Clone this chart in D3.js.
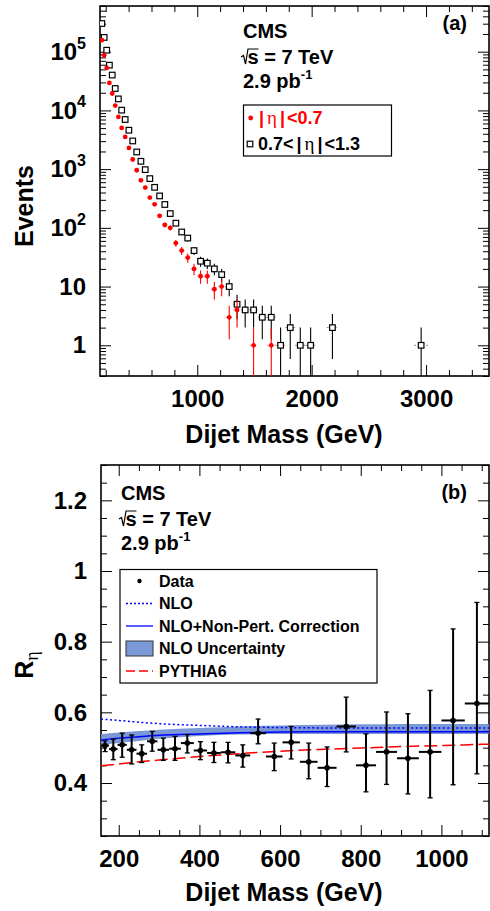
<!DOCTYPE html>
<html>
<head>
<meta charset="utf-8">
<script src="https://d3js.org/d3.v7.min.js"></script>
<style>
  body { margin: 0; background: #fff; }
  svg text { font-family: "Liberation Sans", Arial, Helvetica, sans-serif; font-weight: bold; fill: #000; }
  .ticklab text { font-size: 24px; }
</style>
</head>
<body>
<div id="chart"></div>
<script>
// dijet mass bin edges (GeV)
const binEdges = [156, 176, 197, 220, 244, 270, 296, 325, 354, 386, 419, 453, 489, 526, 565, 606,
  649, 693, 740, 788, 838, 890, 944, 1000, 1058, 1118, 1181, 1246, 1313, 1383, 1455, 1530, 1607,
  1687, 1770, 1856, 1945, 2037, 2132, 2231, 2332, 2438, 2546, 2659, 2775, 2895, 3019];

// (a) events per bin
const countsInner = [157000, 87000, 53000, 29400, 19400, 12100, 7740, 5040, 3540, 2300, 1460, 958,
  646, 486, 328, 252, 160, 112, 100, 55, 41, 31, 20, 15, 15, 9, 10, 3, 4, 0, 1, 0, 1,
  0, 0, 0, 0, 0, 0, 0, 0, 0, 0, 0, 0, 0];
const countsOuter = [302000, 175000, 106000, 59000, 40000, 23600, 15700, 10100, 7000, 4600, 3020, 1960,
  1360, 980, 690, 490, 350, 250, 175, 120, 85, 67, 41, 27, 25, 20, 16, 10, 5, 4, 4, 3, 3,
  1, 2, 1, 1, 0, 2, 0, 0, 0, 0, 0, 0, 1];

// (b) ratio, first 25 bins
const ratioVals = [0.506, 0.496, 0.508, 0.494, 0.483, 0.518, 0.494, 0.497, 0.513, 0.492, 0.485, 0.487,
  0.478, 0.541, 0.475, 0.515, 0.460, 0.443, 0.560, 0.450, 0.488, 0.470, 0.488, 0.577, 0.625];
const ratioErrUp = [0.013, 0.028, 0.033, 0.042, 0.025, 0.028, 0.033, 0.035, 0.024, 0.025, 0.030, 0.028,
  0.030, 0.040, 0.038, 0.045, 0.053, 0.059, 0.083, 0.089, 0.113, 0.126, 0.174, 0.259, 0.286];
const ratioErrDown = [0.017, 0.030, 0.035, 0.040, 0.025, 0.028, 0.030, 0.033, 0.028, 0.026, 0.027, 0.030,
  0.033, 0.030, 0.040, 0.047, 0.048, 0.053, 0.072, 0.075, 0.092, 0.101, 0.130, 0.182, 0.199];

// theory curves
const theoryMass = [156, 200, 250, 300, 400, 500, 600, 700, 800, 900, 1000, 1118];
const nloVals    = [0.581, 0.577, 0.572, 0.568, 0.563, 0.559, 0.557, 0.556, 0.556, 0.556, 0.556, 0.556];
const nloNpVals  = [0.522, 0.527, 0.531, 0.535, 0.539, 0.542, 0.544, 0.545, 0.545, 0.545, 0.545, 0.545];
const bandLo     = [0.507, 0.513, 0.519, 0.525, 0.533, 0.537, 0.539, 0.539, 0.539, 0.539, 0.539, 0.539];
const bandHi     = [0.538, 0.543, 0.547, 0.551, 0.556, 0.560, 0.563, 0.565, 0.566, 0.567, 0.567, 0.567];
const pythiaVals = [0.449, 0.454, 0.460, 0.465, 0.475, 0.483, 0.490, 0.495, 0.499, 0.503, 0.506, 0.510];

// ticks
const topXTicks = [1000, 2000, 3000];
const topYTicks = [1, 10, 100, 1000, 10000, 100000];
const botXTicks = [200, 400, 600, 800, 1000];
const botYTicks = [0.4, 0.6, 0.8, 1, 1.2];

const W = 490, H = 911;
const BLUE = "#0000ff", RED = "#ff0000", BAND = "#6c8dd0";

const svg = d3.select("#chart").append("svg")
  .attr("width", W)
  .attr("height", H);

const bins = binEdges.slice(0, -1).map((lo, i) => ({ lo, hi: binEdges[i + 1], c: (lo + binEdges[i + 1]) / 2 }));

// inward ticks on all four sides
function frameAxes(box, xs, ys, xMajor, xMinor, yMajor, yMinor, xFmt, yFmt) {
  const add = (axis, tr, cls) => svg.append("g")
    .attr("class", cls || "")
    .attr("transform", tr)
    .call(axis)
    .call(g => g.select(".domain").remove())
    .call(g => g.selectAll("line").attr("stroke-width", 1));

  add(d3.axisBottom(xs).tickValues(xMajor).tickSize(-11).tickPadding(14).tickFormat(xFmt), `translate(0,${box.bottom})`, "ticklab");
  add(d3.axisBottom(xs).tickValues(xMinor).tickSize(-6).tickFormat(""), `translate(0,${box.bottom})`);
  add(d3.axisTop(xs).tickValues(xMajor).tickSize(-11).tickFormat(""), `translate(0,${box.top})`);
  add(d3.axisTop(xs).tickValues(xMinor).tickSize(-6).tickFormat(""), `translate(0,${box.top})`);

  const yl = add(d3.axisLeft(ys).tickValues(yMajor).tickSize(-11).tickPadding(14).tickFormat(yFmt), `translate(${box.left},0)`, "ticklab");
  add(d3.axisLeft(ys).tickValues(yMinor).tickSize(-6).tickFormat(""), `translate(${box.left},0)`);
  add(d3.axisRight(ys).tickValues(yMajor).tickSize(-11).tickFormat(""), `translate(${box.right},0)`);
  add(d3.axisRight(ys).tickValues(yMinor).tickSize(-6).tickFormat(""), `translate(${box.right},0)`);

  svg.append("rect")
    .attr("x", box.left).attr("y", box.top)
    .attr("width", box.right - box.left).attr("height", box.bottom - box.top)
    .attr("fill", "none").attr("stroke", "#000").attr("stroke-width", 1.6);
  return yl;
}

function energyLabel(x, y) {
  svg.append("path")
    .attr("d", `M${x},${y - 7} L${x + 2.5},${y - 8.5} L${x + 4.5},${y} L${x + 7},${y - 15} L${x + 17.5},${y - 15}`)
    .attr("fill", "none").attr("stroke", "#000").attr("stroke-width", 1.2);
  svg.append("text").attr("x", x + 6.5).attr("y", y).attr("font-size", 20).text("s = 7 TeV");
}

function lumiLabel(x, y) {
  const t = svg.append("text").attr("x", x).attr("y", y).attr("font-size", 20);
  t.append("tspan").text("2.9 pb");
  t.append("tspan").attr("font-size", 13).attr("dy", "-0.7em").text("-1");
}

// ================= (a) spectrum =================
const topBox = { left: 100, right: 489, top: 6, bottom: 376 };
const xTop = d3.scaleLinear().domain([150, 3550]).range([topBox.left, topBox.right]);
const yTop = d3.scaleLog().domain([0.3, 6e5]).range([topBox.bottom, topBox.top]);

const logMinor = [];
for (let e = -1; e <= 5; e++) for (let k = 2; k <= 9; k++) {
  const v = k * Math.pow(10, e);
  if (v >= 0.3 && v <= 6e5) logMinor.push(v);
}

const yLabTop = frameAxes(topBox, xTop, yTop,
  topXTicks, d3.range(200, 3600, 200).filter(v => v % 1000 !== 0),
  topYTicks, logMinor, d3.format("d"), () => "");

yLabTop.selectAll(".tick text").each(function (d) {
  const t = d3.select(this);
  const e = Math.round(Math.log10(d));
  t.attr("font-size", 23);
  if (e <= 1) t.text(d);
  else {
    t.append("tspan").text("10");
    t.append("tspan").attr("font-size", 16).attr("dy", "-0.7em").text(e);
  }
});

svg.append("clipPath").attr("id", "clipTop")
  .append("rect")
  .attr("x", topBox.left).attr("y", topBox.top)
  .attr("width", topBox.right - topBox.left).attr("height", topBox.bottom - topBox.top);

const plotTop = svg.append("g").attr("clip-path", "url(#clipTop)");

function drawSeries(counts, color, hColor, square) {
  const pts = counts.map((n, i) => ({ ...bins[i], n })).filter(d => d.n > 0);
  const g = plotTop.append("g");
  g.selectAll(".hbar").data(pts).join("line")
    .attr("x1", d => xTop(d.lo)).attr("x2", d => xTop(d.hi))
    .attr("y1", d => yTop(d.n)).attr("y2", d => yTop(d.n))
    .attr("stroke", hColor).attr("stroke-width", 1).attr("stroke-dasharray", "2,2");
  g.selectAll(".vbar").data(pts).join("line")
    .attr("x1", d => xTop(d.c)).attr("x2", d => xTop(d.c))
    .attr("y1", d => yTop(d.n + Math.sqrt(d.n)))
    .attr("y2", d => d.n - Math.sqrt(d.n) > 0 ? yTop(d.n - Math.sqrt(d.n)) : topBox.bottom + 2)
    .attr("stroke", color).attr("stroke-width", 1.1);
  if (square) {
    g.selectAll(".mk").data(pts).join("rect")
      .attr("x", d => xTop(d.c) - 2.8).attr("y", d => yTop(d.n) - 2.8)
      .attr("width", 5.6).attr("height", 5.6)
      .attr("fill", "#fff").attr("stroke", color).attr("stroke-width", 1.2);
  } else {
    g.selectAll(".mk").data(pts).join("circle")
      .attr("cx", d => xTop(d.c)).attr("cy", d => yTop(d.n))
      .attr("r", 2.4).attr("fill", color);
  }
}
drawSeries(countsOuter, "#000", "#888", true);
drawSeries(countsInner, RED, "#ff9090", false);

svg.append("text").attr("x", 284).attr("y", 443).attr("text-anchor", "middle")
  .attr("font-size", 25).text("Dijet Mass (GeV)");
svg.append("text").attr("transform", "translate(33,206) rotate(-90)").attr("text-anchor", "middle")
  .attr("font-size", 25).text("Events");

svg.append("text").attr("x", 243).attr("y", 38).attr("font-size", 20).text("CMS");
energyLabel(241, 64);
lumiLabel(243, 88);
svg.append("text").attr("x", 467).attr("y", 30).attr("text-anchor", "end").attr("font-size", 20).text("(a)");

// legend (a)
svg.append("rect").attr("x", 243.5).attr("y", 105).attr("width", 148).attr("height", 51)
  .attr("fill", "#fff").attr("stroke", "#000").attr("stroke-width", 1.2);
svg.append("circle").attr("cx", 250.7).attr("cy", 118).attr("r", 2.4).attr("fill", RED);
svg.append("rect").attr("x", 247.2).attr("y", 141.2).attr("width", 5.6).attr("height", 5.6)
  .attr("fill", "#fff").attr("stroke", "#000").attr("stroke-width", 1.2);

function etaText(x, y, pre, post, color) {
  const t = svg.append("text").attr("x", x).attr("y", y).attr("font-size", 18).style("fill", color);
  if (pre) t.append("tspan").text(pre);
  t.append("tspan").attr("dx", pre ? 3 : 0).text("|");
  t.append("tspan").attr("dx", 3).style("font-family", "'Liberation Serif', serif").style("font-weight", "normal").attr("font-size", 19).text("η");
  t.append("tspan").attr("dx", 3).text("|");
  t.append("tspan").attr("dx", 2).text(post);
}
etaText(259, 124.3, "", "<0.7", RED);
etaText(258, 149.5, "0.7<", "<1.3", "#000");

// ================= (b) ratio =================
const botBox = { left: 101, right: 489, top: 465, bottom: 836 };
const xBot = d3.scaleLinear().domain([156, 1118]).range([botBox.left, botBox.right]);
const yBot = d3.scaleLinear().domain([0.25, 1.3]).range([botBox.bottom, botBox.top]);

frameAxes(botBox, xBot, yBot,
  botXTicks, d3.range(200, 1101, 50).filter(v => v % 200 !== 0),
  botYTicks, d3.range(0.25, 1.301, 0.05).filter(v => Math.abs(v * 5 - Math.round(v * 5)) > 1e-6),
  d3.format("d"), d => d === 1 ? "1" : d3.format(".1f")(d));

const theory = theoryMass.map((m, i) => ({ m, nlo: nloVals[i], np: nloNpVals[i], lo: bandLo[i], hi: bandHi[i], py: pythiaVals[i] }));
const curve = d3.curveMonotoneX;

svg.append("path").datum(theory)
  .attr("d", d3.area().curve(curve).x(d => xBot(d.m)).y0(d => yBot(d.lo)).y1(d => yBot(d.hi)))
  .attr("fill", BAND).attr("fill-opacity", 0.9);
svg.append("path").datum(theory)
  .attr("d", d3.line().curve(curve).x(d => xBot(d.m)).y(d => yBot(d.nlo)))
  .attr("fill", "none").attr("stroke", BLUE).attr("stroke-width", 1.5).attr("stroke-dasharray", "2,2.5");
svg.append("path").datum(theory)
  .attr("d", d3.line().curve(curve).x(d => xBot(d.m)).y(d => yBot(d.np)))
  .attr("fill", "none").attr("stroke", BLUE).attr("stroke-width", 1.5);
svg.append("path").datum(theory)
  .attr("d", d3.line().curve(curve).x(d => xBot(d.m)).y(d => yBot(d.py)))
  .attr("fill", "none").attr("stroke", RED).attr("stroke-width", 1.5).attr("stroke-dasharray", "13,5");

const ratioPts = ratioVals.map((r, i) => ({ ...bins[i], r, up: ratioErrUp[i], dn: ratioErrDown[i] }));
const gData = svg.append("g").attr("stroke", "#000").attr("stroke-width", 2);
gData.selectAll(".h").data(ratioPts).join("line")
  .attr("x1", d => xBot(d.lo)).attr("x2", d => xBot(d.hi))
  .attr("y1", d => yBot(d.r)).attr("y2", d => yBot(d.r));
gData.selectAll(".v").data(ratioPts).join("line")
  .attr("x1", d => xBot(d.c)).attr("x2", d => xBot(d.c))
  .attr("y1", d => yBot(d.r + d.up)).attr("y2", d => yBot(d.r - d.dn));
gData.selectAll(".capu").data(ratioPts).join("line")
  .attr("x1", d => xBot(d.c) - 2.5).attr("x2", d => xBot(d.c) + 2.5)
  .attr("y1", d => yBot(d.r + d.up)).attr("y2", d => yBot(d.r + d.up)).attr("stroke-width", 1.3);
gData.selectAll(".capd").data(ratioPts).join("line")
  .attr("x1", d => xBot(d.c) - 2.5).attr("x2", d => xBot(d.c) + 2.5)
  .attr("y1", d => yBot(d.r - d.dn)).attr("y2", d => yBot(d.r - d.dn)).attr("stroke-width", 1.3);
svg.append("g").selectAll("circle").data(ratioPts).join("circle")
  .attr("cx", d => xBot(d.c)).attr("cy", d => yBot(d.r)).attr("r", 2.8).attr("fill", "#000");

svg.append("text").attr("x", 284).attr("y", 901).attr("text-anchor", "middle")
  .attr("font-size", 25).text("Dijet Mass (GeV)");
const rt = svg.append("text").attr("transform", "translate(33,665) rotate(-90)").attr("text-anchor", "middle")
  .attr("font-size", 25);
rt.append("tspan").text("R");
rt.append("tspan").attr("dy", "0.3em").attr("font-size", 18)
  .style("font-family", "'Liberation Serif', serif").style("font-weight", "normal").text("η");

svg.append("text").attr("x", 121).attr("y", 500).attr("font-size", 20).text("CMS");
energyLabel(119, 526);
lumiLabel(121, 550);
svg.append("text").attr("x", 467).attr("y", 499).attr("text-anchor", "end").attr("font-size", 20).text("(b)");

// legend (b)
const leg = svg.append("g");
leg.append("rect").attr("x", 120).attr("y", 569.5).attr("width", 257).attr("height", 113.5)
  .attr("fill", "#fff").attr("stroke", "#000").attr("stroke-width", 1.2);
const legItems = ["Data", "NLO", "NLO+Non-Pert. Correction", "NLO Uncertainty", "PYTHIA6"];
const legY = d3.scalePoint().domain(legItems).range([581, 671]);
leg.selectAll(".lt").data(legItems).join("text")
  .attr("x", 159).attr("y", d => legY(d)).attr("dy", "0.36em").attr("font-size", 16).text(d => d);
leg.append("circle").attr("cx", 139.5).attr("cy", legY("Data")).attr("r", 2.2).attr("fill", "#000");
leg.append("line").attr("x1", 126).attr("x2", 153).attr("y1", legY("NLO")).attr("y2", legY("NLO"))
  .attr("stroke", BLUE).attr("stroke-width", 1.3).attr("stroke-dasharray", "2,2");
leg.append("line").attr("x1", 126).attr("x2", 153).attr("y1", legY("NLO+Non-Pert. Correction")).attr("y2", legY("NLO+Non-Pert. Correction"))
  .attr("stroke", BLUE).attr("stroke-width", 1.3);
leg.append("rect").attr("x", 126).attr("y", legY("NLO Uncertainty") - 7.5).attr("width", 27).attr("height", 15)
  .attr("fill", "#7b99d6").attr("stroke", "#333").attr("stroke-width", 1);
leg.append("line").attr("x1", 126).attr("x2", 153).attr("y1", legY("PYTHIA6")).attr("y2", legY("PYTHIA6"))
  .attr("stroke", RED).attr("stroke-width", 1.3).attr("stroke-dasharray", "9,4");
</script>
</body>
</html>
